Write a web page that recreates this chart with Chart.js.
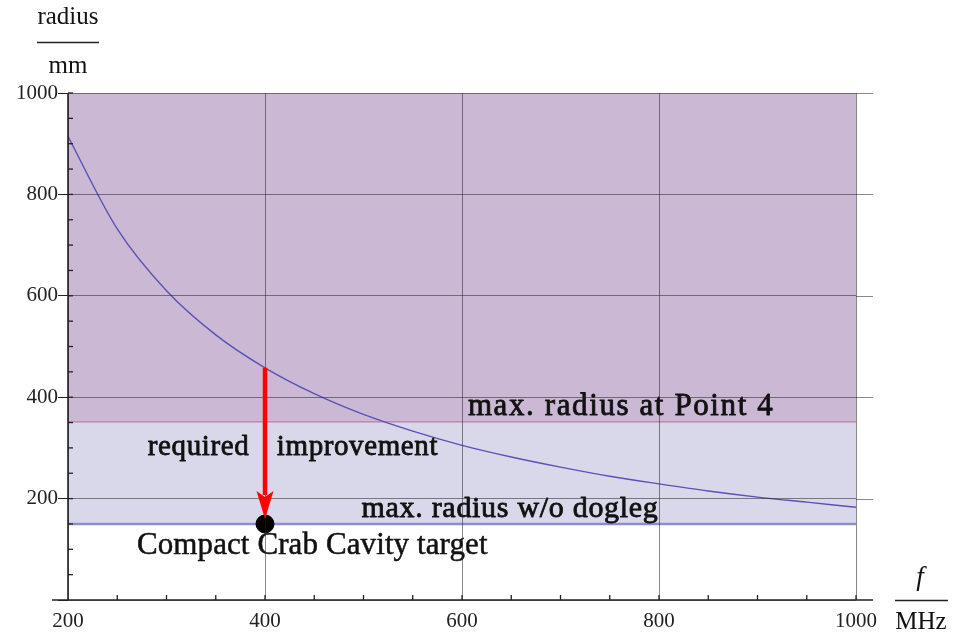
<!DOCTYPE html>
<html>
<head>
<meta charset="utf-8">
<script src="https://cdn.jsdelivr.net/npm/chart.js@4/dist/chart.umd.min.js"></script>
<style>
  html, body { margin: 0; padding: 0; background: #fff; }
  #wrap { width: 961px; height: 633px; position: relative; }
</style>
</head>
<body>
<div id="wrap"><canvas id="c" width="961" height="633"></canvas></div>
<script>
// ---- data ----
const freqMHz   = [200, 250, 300, 350, 400, 450, 500, 550, 600, 650, 700, 750, 800, 850, 900, 950, 1000];
const radiusMM  = [914, 732, 610, 523, 458, 407, 366, 333, 305, 282, 262, 244, 229, 215, 203, 193, 183];
const xRange    = [200, 1000];
const yRange    = [0, 1000];
const xTicks    = [200, 400, 600, 800, 1000];
const yTicks    = [200, 400, 600, 800, 1000];
const limitPoint4   = 350;   // max. radius at Point 4
const limitNoDogleg = 150;   // max. radius w/o dogleg
const targetF = 400, targetR = 150;  // Compact Crab Cavity target
const arrowFrom = 458;       // curve value at 400 MHz
const labelPoint4  = "max. radius at Point 4";
const labelDogleg  = "max. radius w/o dogleg";
const labelReq1    = "required";
const labelReq2    = "improvement";
const labelTarget  = "Compact Crab Cavity target";

const GRID = 'rgba(40,40,40,0.55)';
const AXIS = '#222';
const SERIF = '"Liberation Serif", "Times New Roman", serif';

const curve = freqMHz.map((f, i) => ({ x: f, y: radiusMM[i] }));

function heavyText(ctx, txt, x, y, spacing) {
  ctx.letterSpacing = spacing + 'px';
  ctx.strokeText(txt, x, y);
  ctx.fillText(txt, x, y);
  ctx.letterSpacing = '0px';
}

const overlay = {
  id: 'overlay',
  afterDatasetsDraw(chart) {
    const { ctx } = chart;
    const xs = chart.scales.x, ys = chart.scales.y;
    ctx.save();
    ctx.fillStyle = '#111';
    ctx.strokeStyle = '#111';
    ctx.lineWidth = 0.8;
    ctx.lineJoin = 'round';
    ctx.textBaseline = 'middle';
    ctx.textAlign = 'left';
    ctx.font = '31px ' + SERIF;
    heavyText(ctx, labelPoint4, xs.getPixelForValue(606), ys.getPixelForValue(381), 1.6);
    ctx.font = '30px ' + SERIF;
    heavyText(ctx, labelDogleg, xs.getPixelForValue(498), ys.getPixelForValue(180), 0.7);
    ctx.font = '29px ' + SERIF;
    ctx.textAlign = 'right';
    heavyText(ctx, labelReq1, xs.getPixelForValue(384), ys.getPixelForValue(301), 0.6);
    ctx.textAlign = 'left';
    heavyText(ctx, labelReq2, xs.getPixelForValue(412), ys.getPixelForValue(301), 0.6);
    ctx.font = '31px ' + SERIF;
    ctx.lineWidth = 0.5;
    heavyText(ctx, labelTarget, xs.getPixelForValue(270), ys.getPixelForValue(106), 0.1);
    ctx.restore();
  },
  afterDraw(chart) {
    const { ctx, chartArea: a } = chart;
    const xs = chart.scales.x, ys = chart.scales.y;
    ctx.save();
    // grid extensions to the right
    ctx.strokeStyle = GRID; ctx.lineWidth = 1;
    yTicks.forEach(v => {
      const y = Math.round(ys.getPixelForValue(v)) + 0.5;
      ctx.beginPath(); ctx.moveTo(a.right, y); ctx.lineTo(a.right + 17, y); ctx.stroke();
    });
    // axes
    ctx.strokeStyle = AXIS; ctx.lineWidth = 1.6;
    ctx.beginPath(); ctx.moveTo(a.left - 16, a.bottom); ctx.lineTo(a.right + 17, a.bottom); ctx.stroke();
    ctx.beginPath(); ctx.moveTo(a.left, a.top); ctx.lineTo(a.left, a.bottom); ctx.stroke();
    // minor + major inner ticks
    ctx.lineWidth = 1.3;
    for (let v = yRange[0] + 50; v <= yRange[1]; v += 50) {
      const y = ys.getPixelForValue(v);
      ctx.beginPath(); ctx.moveTo(a.left, y); ctx.lineTo(a.left + 5, y); ctx.stroke();
    }
    for (let v = xRange[0] + 50; v <= xRange[1]; v += 50) {
      const x = xs.getPixelForValue(v);
      ctx.beginPath(); ctx.moveTo(x, a.bottom); ctx.lineTo(x, a.bottom - 5); ctx.stroke();
    }
    // axis labels
    ctx.fillStyle = '#111';
    ctx.textAlign = 'center'; ctx.textBaseline = 'middle';
    ctx.font = '25px ' + SERIF;
    ctx.fillText('radius', 68, 17);
    ctx.fillText('mm', 68, 66);
    ctx.lineWidth = 1.3;
    ctx.beginPath(); ctx.moveTo(37, 42.5); ctx.lineTo(99, 42.5); ctx.stroke();
    ctx.font = 'italic 27px ' + SERIF;
    ctx.fillText('f', 920, 578);
    ctx.font = '25px ' + SERIF;
    ctx.fillText('MHz', 921, 622);
    ctx.beginPath(); ctx.moveTo(895, 600.5); ctx.lineTo(948, 600.5); ctx.stroke();
    // red arrow
    const ax = xs.getPixelForValue(targetF);
    const y0 = ys.getPixelForValue(arrowFrom);
    const tip = ys.getPixelForValue(targetR) - 5;
    const headLen = 28, headW = 8.5;
    ctx.strokeStyle = '#ff0000'; ctx.fillStyle = '#ff0000';
    ctx.lineWidth = 4.5;
    ctx.beginPath(); ctx.moveTo(ax, y0); ctx.lineTo(ax, tip - headLen + 4); ctx.stroke();
    ctx.beginPath();
    ctx.moveTo(ax, tip);
    ctx.lineTo(ax - headW, tip - headLen);
    ctx.lineTo(ax, tip - headLen + 6);
    ctx.lineTo(ax + headW, tip - headLen);
    ctx.closePath(); ctx.fill();
    ctx.restore();
  }
};

new Chart(document.getElementById('c'), {
  type: 'scatter',
  data: {
    datasets: [
      {
        label: 'target',
        data: [{ x: targetF, y: targetR }],
        pointRadius: 9, pointBackgroundColor: '#000', pointBorderColor: '#000',
        showLine: false, order: 0
      },
      {
        label: 'curve',
        data: curve,
        showLine: true, borderColor: '#5a52b4', borderWidth: 1.4,
        pointRadius: 0, cubicInterpolationMode: 'monotone', fill: false, order: 1
      },
      {
        label: labelPoint4,
        data: [{ x: xRange[0], y: limitPoint4 }, { x: xRange[1], y: limitPoint4 }],
        showLine: true, borderColor: '#bb7fa3', borderWidth: 2.5,
        backgroundColor: '#cbb8d4', fill: 'end', pointRadius: 0, order: 3
      },
      {
        label: labelDogleg,
        data: [{ x: xRange[0], y: limitNoDogleg }, { x: xRange[1], y: limitNoDogleg }],
        showLine: true, borderColor: '#8d8dd2', borderWidth: 2.5,
        backgroundColor: '#d9d8ea', fill: { value: limitPoint4 }, pointRadius: 0, order: 2
      }
    ]
  },
  options: {
    responsive: false,
    animation: false,
    layout: { padding: { top: 93, right: 105, left: 0, bottom: 0 } },
    plugins: { legend: { display: false }, tooltip: { enabled: false } },
    scales: {
      x: {
        type: 'linear', min: xRange[0], max: xRange[1],
        afterFit(s) { s.height = 33; },
        afterBuildTicks(s) { s.ticks = xTicks.map(v => ({ value: v })); },
        grid: { color: GRID, lineWidth: 1, drawTicks: false, z: 1 },
        border: { display: false },
        ticks: { padding: 9, color: '#222', font: { family: SERIF, size: 21 },
                 callback: v => String(v) }
      },
      y: {
        type: 'linear', min: yRange[0], max: yRange[1],
        afterFit(s) { s.width = 68; },
        afterBuildTicks(s) { s.ticks = [0].concat(yTicks).map(v => ({ value: v })); },
        grid: { color: GRID, lineWidth: 1, drawTicks: true, tickLength: 10, tickColor: AXIS, z: 1 },
        border: { display: false },
        ticks: {
          padding: 0, color: '#222', font: { family: SERIF, size: 21 },
          callback: v => (v === 0 ? '' : String(v))
        }
      }
    }
  },
  plugins: [overlay]
});
</script>
</body>
</html>
